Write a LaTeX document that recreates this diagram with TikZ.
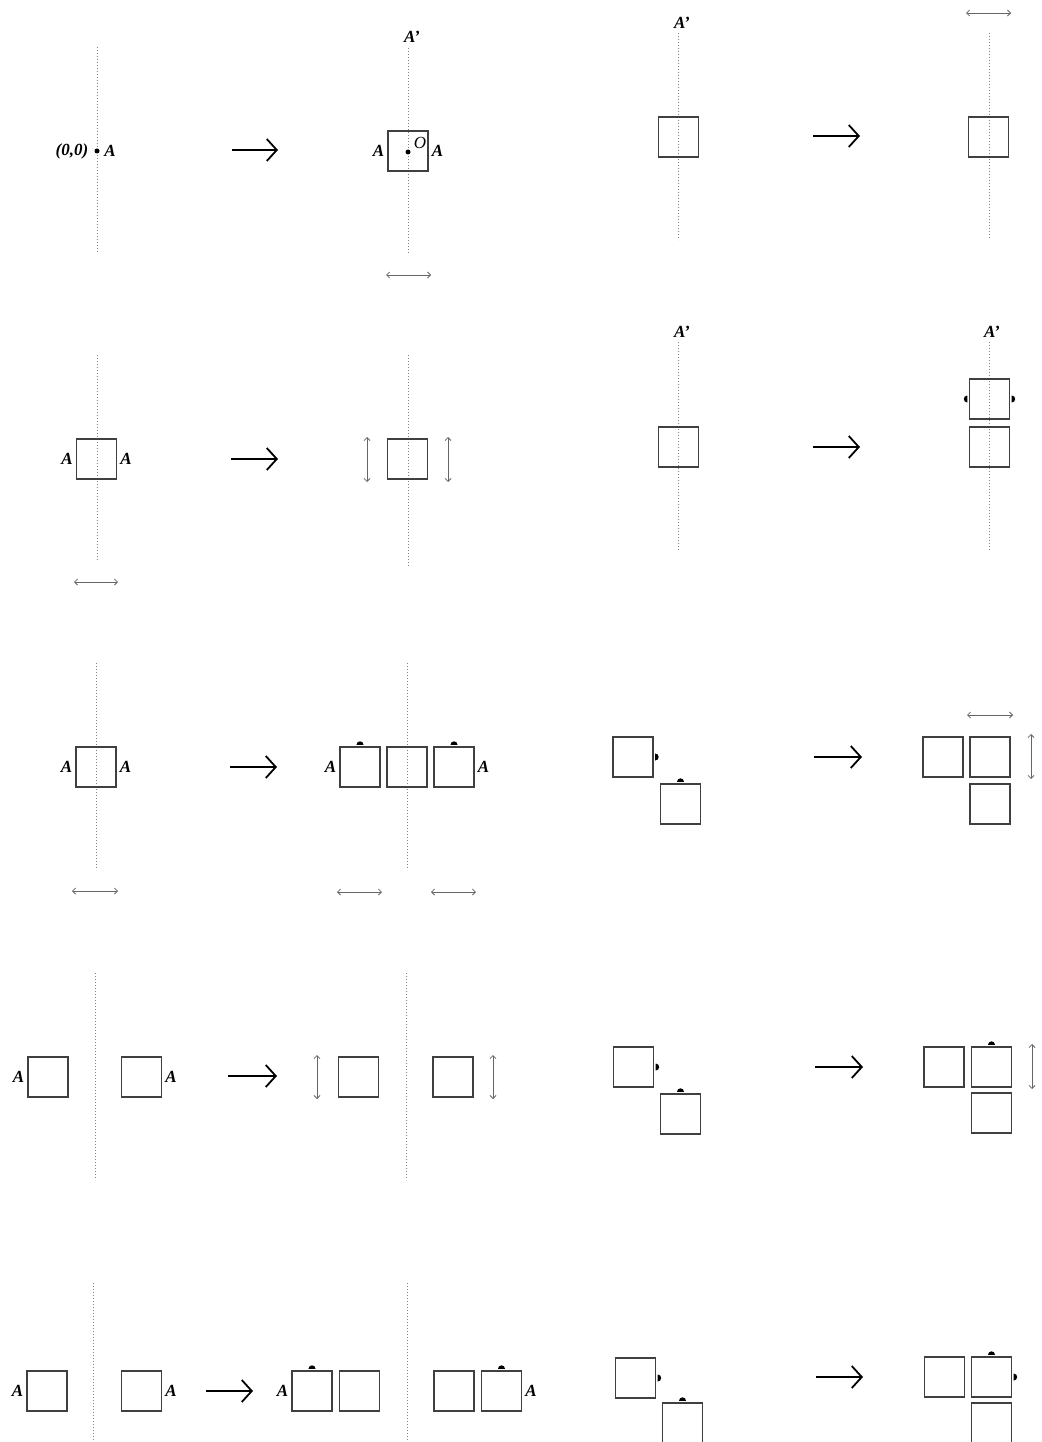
\documentclass[tikz,border=0pt]{standalone}
\usepackage{fontspec}
\setmainfont{Liberation Serif}
\usepackage{tikz}
\usetikzlibrary{
    arrows.meta,
    positioning
}

% small half-discs on the edge of a square
\newcommand{\bumptop}[1]{\fill ([yshift=1.5pt]#1) ++(-3.5pt,0) arc[start angle=180,end angle=0,radius=3.5pt] -- cycle;}
\newcommand{\bumpright}[1]{\fill ([xshift=1.5pt]#1) ++(0,3.5pt) arc[start angle=90,end angle=-90,radius=3.5pt] -- cycle;}
\newcommand{\bumpleft}[1]{\fill ([xshift=-1.5pt]#1) ++(0,3.5pt) arc[start angle=90,end angle=270,radius=3.5pt] -- cycle;}

\begin{document}
\begin{tikzpicture}[
        x=1pt, y=-1pt,
        sq/.style={
            draw=black!75,
            line width=1.4pt,
            minimum size=40pt,
            inner sep=0pt
        },
        axis/.style={
            draw=black!50,
            line width=1pt,
            dash pattern=on 1pt off 2pt
        },
        bigarrow/.style={
            -{Straight Barb[length=10pt,width=22pt]},
            line width=1.8pt
        },
        dbl/.style={
            {Straight Barb[length=3pt,width=6pt]}-{Straight Barb[length=3pt,width=6pt]},
            draw=black!60,
            line width=0.8pt
        },
        lbl/.style={
            font=\fontsize{17}{19}\selectfont\bfseries\itshape,
            inner sep=1pt
        }
    ]
        \useasboundingbox (0,0) rectangle (1041,1442);
        \clip (0,0) rectangle (1041,1442);

        % row 1, left
        \draw[axis] (97,47) -- (97,253);
        \fill (97,151) circle (2.5pt);
        \node[lbl] (orig) at (72,151) {(0,0)};
        \node[lbl] (a11) at (110,151) {A};
        \draw[bigarrow] (232,150) -- (278,150);
        \draw[axis] (408,48) -- (408,253);
        \node[sq] (s12) at (408,151) {};
        \fill (408,152) circle (2.5pt);
        \node[font=\fontsize{17}{19}\selectfont\itshape, inner sep=0pt] (o12) at (420,143) {O};
        \node[lbl, left=2pt of s12] (a12l) {A};
        \node[lbl, right=2pt of s12] (a12r) {A};
        \node[lbl] (ap12) at (412,37) {A’};
        \draw[dbl] (386,275) -- (431,275);

        % row 1, right
        \draw[axis] (678,33) -- (678,240);
        \node[lbl] (ap21) at (682,23) {A’};
        \node[sq] (s21) at (678.5,137) {};
        \draw[bigarrow] (813,136) -- (860,136);
        \draw[axis] (989,33) -- (989,240);
        \node[sq] (s22) at (988.5,137) {};
        \draw[dbl] (966,13) -- (1011,13);

        % row 2, left
        \draw[axis] (97,355) -- (97,562);
        \node[sq] (s31) at (96.5,459) {};
        \node[lbl, left=2pt of s31] (a31l) {A};
        \node[lbl, right=2pt of s31] (a31r) {A};
        \draw[bigarrow] (231,459) -- (278,459);
        \draw[dbl] (74,582) -- (118,582);
        \draw[axis] (408,355) -- (408,567);
        \node[sq] (s32) at (407.5,459) {};
        \draw[dbl] (367,437) -- (367,482);
        \draw[dbl] (448,437) -- (448,482);

        % row 2, right
        \draw[axis] (678,342) -- (678,550);
        \node[lbl] (ap41) at (682,332) {A’};
        \node[sq] (s41) at (678.5,447) {};
        \draw[bigarrow] (813,447) -- (860,447);
        \draw[axis] (989,342) -- (989,550);
        \node[lbl] (ap42) at (992,332) {A’};
        \node[sq] (s42u) at (989.5,399) {};
        \node[sq] (s42d) at (989.5,447) {};
        \bumpleft{s42u.west}
        \bumpright{s42u.east}

        % row 3, left
        \draw[axis] (96,663) -- (96,870);
        \node[sq] (s51) at (96,767) {};
        \node[lbl, left=2pt of s51] (a51l) {A};
        \node[lbl, right=2pt of s51] (a51r) {A};
        \draw[bigarrow] (230,767) -- (277,767);
        \draw[dbl] (72,891) -- (118,891);
        \draw[axis] (407,663) -- (407,870);
        \node[sq] (s52a) at (360,767) {};
        \node[sq] (s52b) at (407,767) {};
        \node[sq] (s52c) at (454,767) {};
        \node[lbl, left=2pt of s52a] (a52l) {A};
        \node[lbl, right=2pt of s52c] (a52r) {A};
        \bumptop{s52a.north}
        \bumptop{s52c.north}
        \draw[dbl] (337,892) -- (382,892);
        \draw[dbl] (431,892) -- (476,892);

        % row 3, right
        \node[sq] (s61a) at (633,757) {};
        \node[sq] (s61b) at (680.5,804) {};
        \bumpright{s61a.east}
        \bumptop{s61b.north}
        \draw[bigarrow] (814,757) -- (862,757);
        \node[sq] (s62a) at (943,757) {};
        \node[sq] (s62b) at (990,757) {};
        \node[sq] (s62c) at (990,804) {};
        \draw[dbl] (967,715) -- (1013,715);
        \draw[dbl] (1031,734) -- (1031,779);

        % row 4, left
        \draw[axis] (95,973) -- (95,1180);
        \node[sq] (s71a) at (48,1077) {};
        \node[sq] (s71b) at (141.5,1077) {};
        \node[lbl, left=2pt of s71a] (a71l) {A};
        \node[lbl, right=2pt of s71b] (a71r) {A};
        \draw[bigarrow] (228,1076) -- (277,1076);
        \draw[axis] (406,973) -- (406,1180);
        \node[sq] (s72a) at (358.5,1077) {};
        \node[sq] (s72b) at (453,1077) {};
        \draw[dbl] (317,1055) -- (317,1099);
        \draw[dbl] (493,1055) -- (493,1099);

        % row 4, right
        \node[sq] (s81a) at (633.5,1067) {};
        \node[sq] (s81b) at (680.5,1114) {};
        \bumpright{s81a.east}
        \bumptop{s81b.north}
        \draw[bigarrow] (815,1067) -- (863,1067);
        \node[sq] (s82a) at (944,1067) {};
        \node[sq] (s82b) at (991.5,1067) {};
        \node[sq] (s82c) at (991.5,1113) {};
        \bumptop{s82b.north}
        \draw[dbl] (1032,1044) -- (1032,1089);

        % row 5, left
        \draw[axis] (93,1283) -- (93,1450);
        \node[sq] (s91a) at (47,1391) {};
        \node[sq] (s91b) at (141.5,1391) {};
        \node[lbl, left=2pt of s91a] (a91l) {A};
        \node[lbl, right=2pt of s91b] (a91r) {A};
        \draw[bigarrow] (206,1391) -- (253,1391);
        \node[sq] (s92a) at (312,1391) {};
        \node[sq] (s92b) at (359.5,1391) {};
        \node[lbl, left=2pt of s92a] (a92l) {A};
        \draw[axis] (407,1283) -- (407,1450);
        \node[sq] (s92c) at (454,1391) {};
        \node[sq] (s92d) at (501.5,1391) {};
        \node[lbl, right=2pt of s92d] (a92r) {A};
        \bumptop{s92a.north}
        \bumptop{s92d.north}

        % row 5, right
        \node[sq] (s101a) at (635.5,1378) {};
        \node[sq] (s101b) at (682.5,1423) {};
        \bumpright{s101a.east}
        \bumptop{s101b.north}
        \draw[bigarrow] (816,1377) -- (863,1377);
        \node[sq] (s102a) at (944.5,1377) {};
        \node[sq] (s102b) at (991.5,1377) {};
        \node[sq] (s102c) at (991.5,1423) {};
        \bumptop{s102b.north}
        \bumpright{s102b.east}
    \end{tikzpicture}
\end{document}
